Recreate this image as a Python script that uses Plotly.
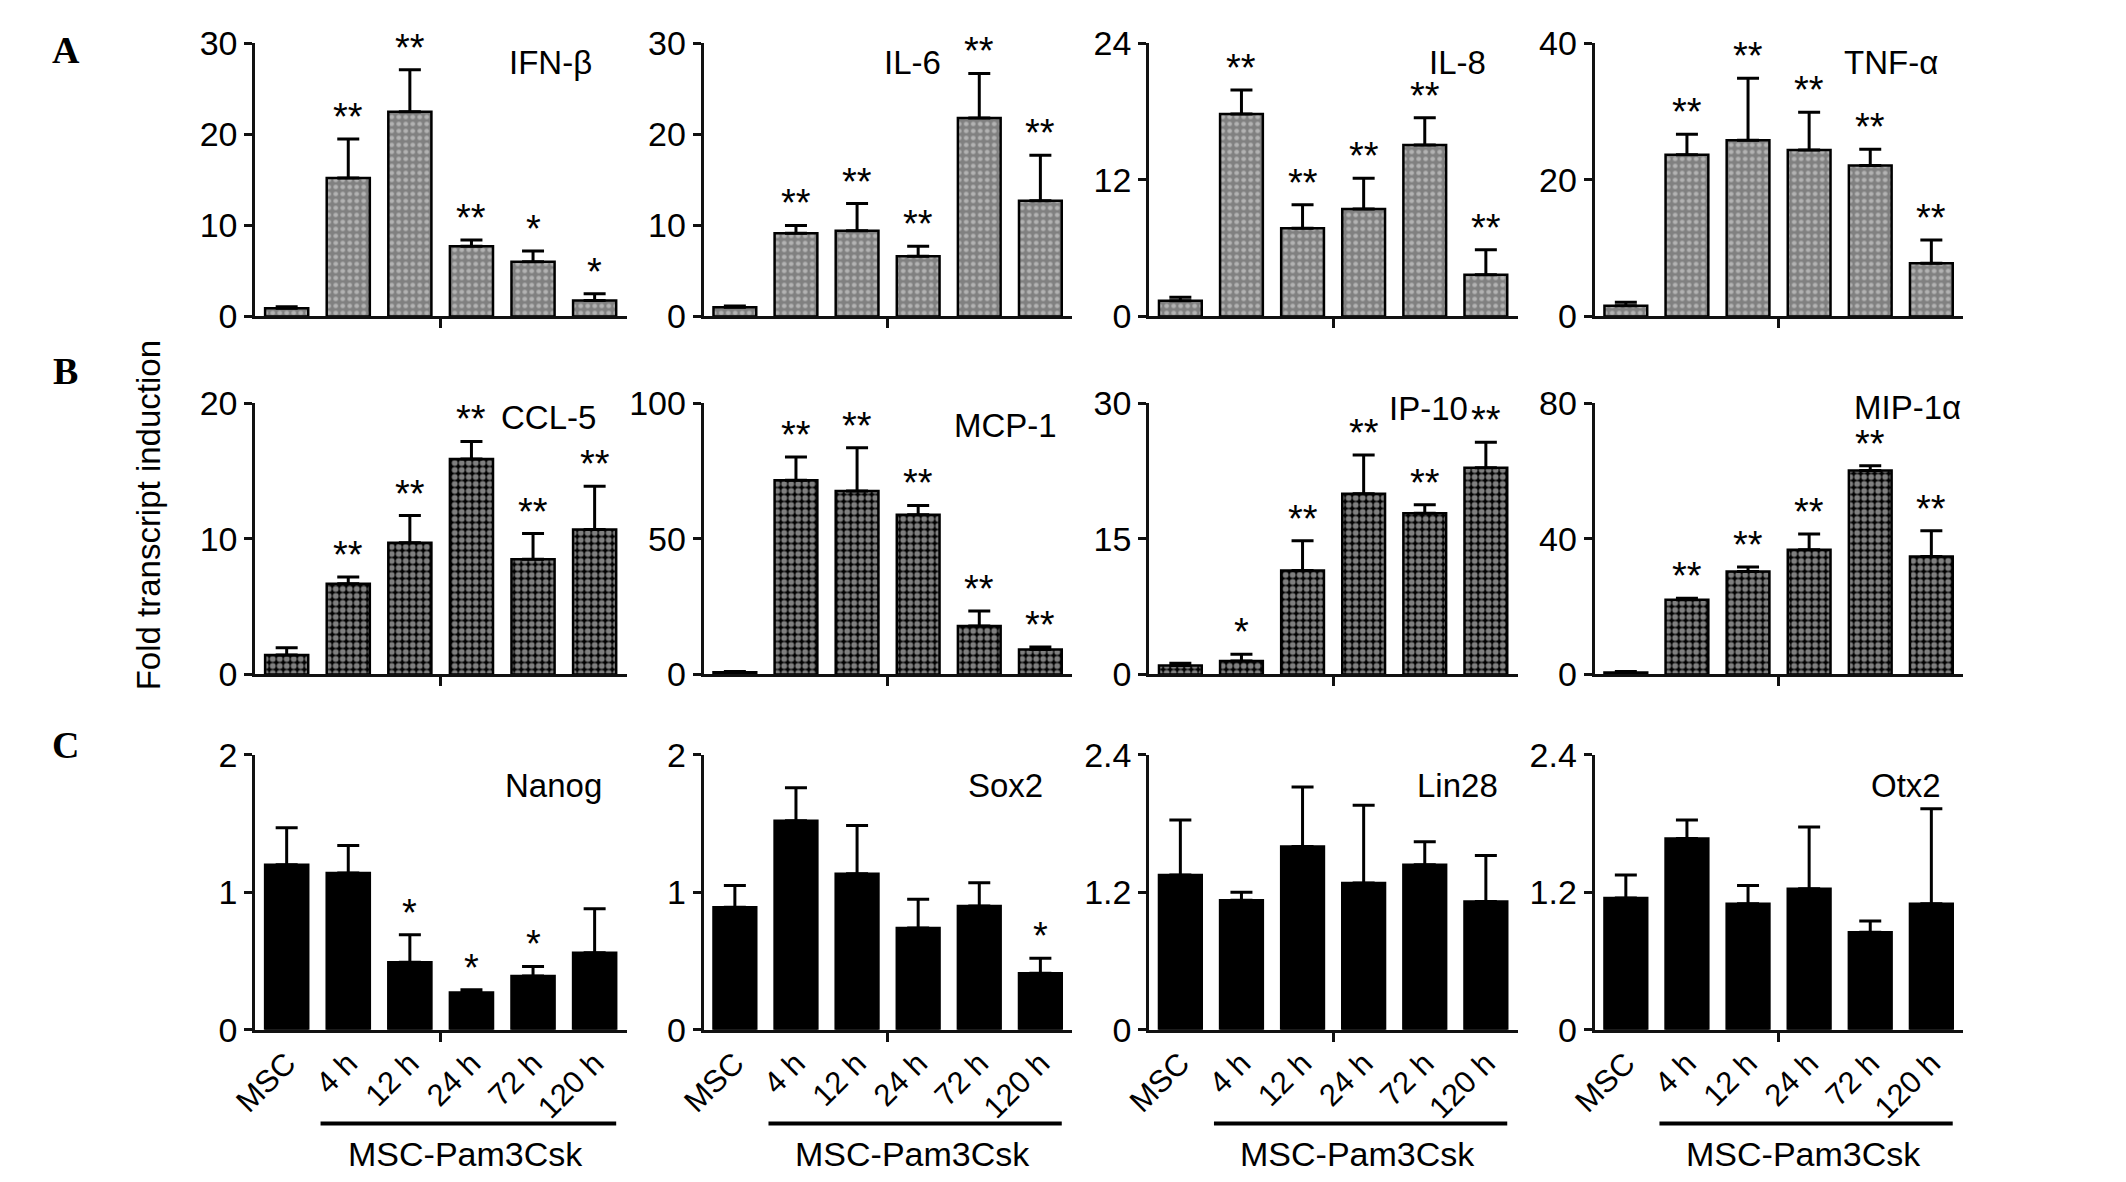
import plotly.graph_objects as go
from plotly.subplots import make_subplots

# x categories (same for every panel)
categories = ["MSC", "4 h", "12 h", "24 h", "72 h", "120 h"]
group_label = "MSC-Pam3Csk"

# Row A
ifnb = [0.9, 15.2, 22.5, 7.7, 6.0, 1.75]
ifnb_err = [0.15, 4.3, 4.6, 0.7, 1.2, 0.75]
ifnb_sig = ["", "**", "**", "**", "*", "*"]

il6 = [1.0, 9.15, 9.4, 6.6, 21.8, 12.7]
il6_err = [0.15, 0.85, 3.0, 1.1, 4.9, 5.0]
il6_sig = ["", "**", "**", "**", "**", "**"]

il8 = [1.38, 17.8, 7.76, 9.45, 15.07, 3.66]
il8_err = [0.3, 2.1, 2.05, 2.7, 2.4, 2.2]
il8_sig = ["", "**", "**", "**", "**", "**"]

tnfa = [1.56, 23.7, 25.8, 24.4, 22.1, 7.8]
tnfa_err = [0.5, 3.0, 9.1, 5.5, 2.4, 3.4]
tnfa_sig = ["", "**", "**", "**", "**", "**"]

# Row B
ccl5 = [1.43, 6.7, 9.73, 15.9, 8.5, 10.7]
ccl5_err = [0.54, 0.5, 2.0, 1.3, 1.9, 3.2]
ccl5_sig = ["", "**", "**", "**", "**", "**"]

mcp1 = [0.8, 71.7, 67.7, 58.9, 17.9, 9.2]
mcp1_err = [0.3, 8.6, 16.0, 3.5, 5.5, 0.9]
mcp1_sig = ["", "**", "**", "**", "**", "**"]

ip10 = [1.0, 1.48, 11.5, 20.0, 17.85, 22.9]
ip10_err = [0.25, 0.75, 3.3, 4.3, 0.95, 2.8]
ip10_sig = ["", "*", "**", "**", "**", "**"]

mip1a = [0.6, 22.1, 30.4, 36.8, 60.2, 34.8]
mip1a_err = [0.3, 0.4, 1.3, 4.7, 1.4, 7.6]
mip1a_sig = ["", "**", "**", "**", "**", "**"]

# Row C
nanog = [1.20, 1.14, 0.49, 0.27, 0.39, 0.56]
nanog_err = [0.27, 0.2, 0.2, 0.02, 0.07, 0.32]
nanog_sig = ["", "", "*", "*", "*", ""]

sox2 = [0.89, 1.52, 1.135, 0.74, 0.90, 0.41]
sox2_err = [0.16, 0.24, 0.35, 0.21, 0.17, 0.11]
sox2_sig = ["", "", "", "", "", "*"]

lin28 = [1.35, 1.13, 1.60, 1.28, 1.44, 1.12]
lin28_err = [0.48, 0.07, 0.52, 0.68, 0.2, 0.4]
lin28_sig = ["", "", "", "", "", ""]

otx2 = [1.15, 1.67, 1.10, 1.23, 0.85, 1.10]
otx2_err = [0.2, 0.16, 0.16, 0.54, 0.10, 0.83]
otx2_sig = ["", "", "", "", "", ""]

gene_names = ["IFN-β", "IL-6", "IL-8", "TNF-α",
              "CCL-5", "MCP-1", "IP-10", "MIP-1α",
              "Nanog", "Sox2", "Lin28", "Otx2"]
y_ticks = [[0, 10, 20, 30], [0, 10, 20, 30], [0, 12, 24], [0, 20, 40],
           [0, 10, 20], [0, 50, 100], [0, 15, 30], [0, 40, 80],
           [0, 1, 2], [0, 1, 2], [0, 1.2, 2.4], [0, 1.2, 2.4]]

panels = [
    (ifnb, ifnb_err, ifnb_sig), (il6, il6_err, il6_sig),
    (il8, il8_err, il8_sig), (tnfa, tnfa_err, tnfa_sig),
    (ccl5, ccl5_err, ccl5_sig), (mcp1, mcp1_err, mcp1_sig),
    (ip10, ip10_err, ip10_sig), (mip1a, mip1a_err, mip1a_sig),
    (nanog, nanog_err, nanog_sig), (sox2, sox2_err, sox2_sig),
    (lin28, lin28_err, lin28_sig), (otx2, otx2_err, otx2_sig),
]

# layout bits (pixel positions of each panel)
W, H = 2126, 1182
col_dom = [(224, 600), (678, 1051), (1129, 1502), (1580, 1953)]
row_dom = [(17, 299), (389, 669), (752, 1036)]
label_pos = [(0.913, 0.93), (0.65, 0.93), (0.92, 0.93), (0.937, 0.93),
             (0.923, 0.948), (0.963, 0.918), (0.87, 0.982), (1.0, 0.985),
             (0.94, 0.89), (0.925, 0.89), (0.953, 0.89), (0.945, 0.89)]

NARROW = "Liberation Sans Narrow, Arial Narrow, Liberation Sans, Arial, sans-serif"
SANS = "Liberation Sans, Arial, sans-serif"

row_patterns = [
    dict(shape=".", bgcolor="#808080", fgcolor="#e6e6e6", size=7, solidity=0.35),
    dict(shape=".", bgcolor="black", fgcolor="white", size=7, solidity=0.55),
    None,
]

fig = make_subplots(rows=3, cols=4)
xpos = list(range(len(categories)))

for k, (vals, errs, sig) in enumerate(panels):
    r, c = divmod(k, 4)
    n = k + 1
    pat = row_patterns[r]
    marker = dict(color="black" if pat is None else pat["bgcolor"],
                  line=dict(color="black", width=2.5))
    if pat is not None:
        marker["pattern"] = pat
    fig.add_trace(go.Bar(
        x=xpos, y=vals,
        marker=marker,
        error_y=dict(type="data", array=errs, arrayminus=[0] * len(errs),
                     symmetric=False, color="black", thickness=3, width=11),
        showlegend=False,
    ), row=r + 1, col=c + 1)

    ax = "" if n == 1 else str(n)
    x0, x1 = col_dom[c]
    y0, y1 = row_dom[r]
    fig.update_layout({
        f"xaxis{ax}": dict(
            domain=[x0 / W, x1 / W], range=[-0.51, 5.52],
            showline=True, linecolor="#111", linewidth=3,
            showgrid=False, zeroline=False,
            tickvals=xpos, ticktext=categories, ticks="",
            showticklabels=(r == 2), tickangle=-45,
            tickfont=dict(family=SANS, size=31, color="black"),
            minor=dict(tickmode="array", tickvals=[2.5], ticks="outside",
                       ticklen=9, tickwidth=2.5, tickcolor="#111"),
        ),
        f"yaxis{ax}": dict(
            domain=[1 - y1 / H, 1 - y0 / H],
            range=[0, y_ticks[k][-1]], tickvals=y_ticks[k],
            showline=True, linecolor="#111", linewidth=3,
            ticks="outside", ticklen=8, tickwidth=3, tickcolor="#111",
            showgrid=False, zeroline=False,
            tickfont=dict(family=NARROW, size=34, color="black"),
        ),
    })

    # significance stars
    for i, s in enumerate(sig):
        if s:
            fig.add_annotation(x=i, y=vals[i] + errs[i], xref=f"x{ax}", yref=f"y{ax}",
                               text=s, showarrow=False, yanchor="bottom", yshift=-1,
                               font=dict(family=SANS, size=38, color="black"))
    # gene name
    lx, ly = label_pos[k]
    fig.add_annotation(x=lx, y=ly, xref=f"x{ax} domain", yref=f"y{ax} domain",
                       text=gene_names[k], showarrow=False,
                       xanchor="right", yanchor="middle",
                       font=dict(family=NARROW, size=33, color="black"))

    # group bracket under bottom row
    if r == 2:
        fig.add_shape(type="line", xref=f"x{ax}", yref="paper",
                      x0=0.55, x1=5.35, y0=1 - 1133 / H, y1=1 - 1133 / H,
                      line=dict(color="black", width=4))
        fig.add_annotation(x=2.9, y=1 - 1164 / H, xref=f"x{ax}", yref="paper",
                           text=group_label, showarrow=False, yanchor="middle",
                           font=dict(family=NARROW, size=34, color="black"))

# panel letters
for letter, yy in zip(["A", "B", "C"], [24, 355, 742]):
    fig.add_annotation(x=32 / W, y=1 - yy / H, xref="paper", yref="paper",
                       text=f"<b>{letter}</b>", showarrow=False,
                       xanchor="center", yanchor="middle",
                       font=dict(family="Liberation Serif, Times New Roman, serif",
                                 size=38, color="black"))

fig.add_annotation(x=116 / W, y=1 - 505 / H, xref="paper", yref="paper",
                   text="Fold transcript induction", textangle=-90,
                   showarrow=False, xanchor="center", yanchor="middle",
                   font=dict(family=SANS, size=33, color="black"))

fig.update_layout(
    width=W, height=H,
    margin=dict(l=0, r=0, t=0, b=0),
    paper_bgcolor="white", plot_bgcolor="white",
    bargap=0.3,
)

fig.write_html("out.html")
